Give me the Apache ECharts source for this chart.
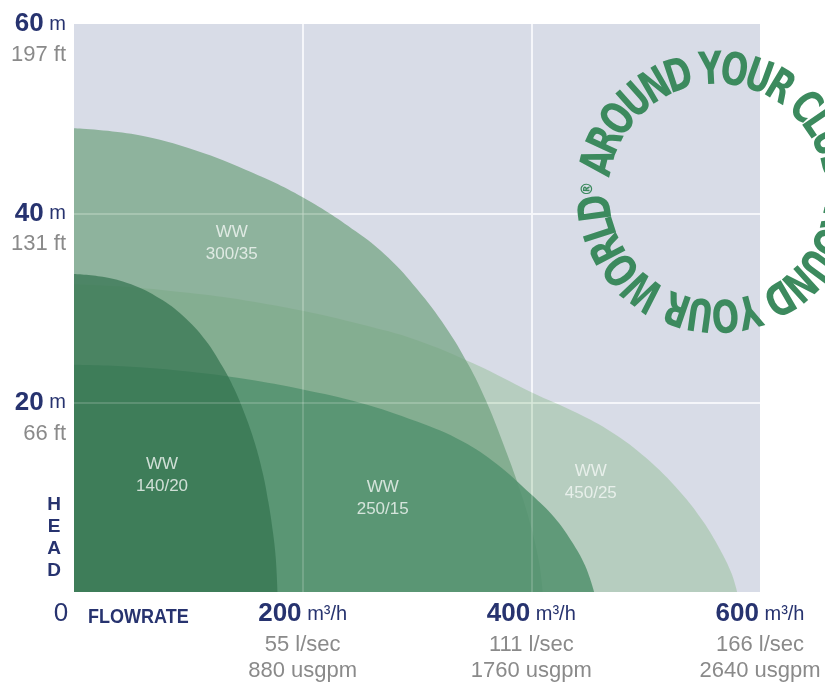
<!DOCTYPE html>
<html>
<head>
<meta charset="utf-8">
<script src="https://cdn.jsdelivr.net/npm/echarts@6/dist/echarts.min.js"></script>
<style>
html,body{margin:0;padding:0;background:#ffffff;}
#chart{width:825px;height:688px;}
</style>
</head>
<body>
<div id="chart"></div>
<script>
// ---- Data ----
const flowTicks = [0, 200, 400, 600];
const flowLps = ['', '55 l/sec', '111 l/sec', '166 l/sec'];
const flowGpm = ['', '880 usgpm', '1760 usgpm', '2640 usgpm'];
const headTicks = [0, 20, 40, 60];
const headFt = ['', '66 ft', '131 ft', '197 ft'];

const ww450Flow = [0, 50, 100, 150, 200, 250, 300, 350, 400, 440, 470, 500, 530, 550, 565, 575, 580];
const ww450Head = [32.5, 32.2, 31.6, 30.8, 29.7, 28.3, 26.6, 24.1, 21.1, 18.9, 16.9, 14.2, 10.6, 7.5, 4.5, 2.0, 0];

const ww300Flow = [0, 50, 100, 150, 200, 250, 275, 300, 325, 345, 360, 375, 390, 400, 407, 410];
const ww300Head = [49.0, 48.4, 46.9, 44.6, 41.7, 37.8, 35.3, 32.0, 28.0, 24.0, 20.3, 15.8, 10.8, 6.8, 3.0, 0];

const ww250Flow = [0, 50, 100, 150, 200, 250, 300, 340, 370, 400, 420, 435, 447, 455];
const ww250Head = [24.0, 23.8, 23.3, 22.5, 21.4, 20.0, 18.0, 15.9, 13.5, 10.3, 7.9, 5.4, 2.8, 0];

const ww140Flow = [0, 25, 50, 75, 95, 115, 130, 140, 150, 158, 165, 170, 174, 176.5, 178];
const ww140Head = [33.6, 33.3, 32.5, 31.0, 29.2, 26.6, 23.8, 21.5, 18.6, 15.8, 12.6, 9.5, 6.3, 3.5, 0];

const labelModels = ['140/20', '250/15', '300/35', '450/25'];
const labelFlow = [77, 270, 138, 452];
const labelHead = [12.3, 9.9, 36.8, 11.6];

const ringText = 'AROUND YOUR CLUB AROUND YOUR WORLD® ';

// ---- Helpers ----
function pairs(xs, ys) { return xs.map((x, i) => [x, ys[i]]); }
const navy = '#27336f';
const grey = '#8a8a8a';

function areaSeries(name, xs, ys, color, opacity) {
  return {
    name: name, type: 'line', data: pairs(xs, ys), smooth: 0.4,
    symbol: 'none', lineStyle: { width: 0 },
    areaStyle: { color: color, opacity: opacity }, silent: true
  };
}

// ---- Ring text graphic ----
const ringCx = 717, ringCy = 192, ringR = 120;
const ringFont = 'bold 36px "Liberation Sans Narrow", "DejaVu Sans Condensed", sans-serif';
const smallFont = 'bold 16px "Liberation Sans Narrow", "DejaVu Sans Condensed", sans-serif';
const cv = document.createElement('canvas').getContext('2d');
const chars = Array.from(ringText);
const widths = chars.map(ch => { cv.font = (ch === '®') ? smallFont : ringFont; return cv.measureText(ch).width; });
const circ = 2 * Math.PI * ringR;
const sumW = widths.reduce((a, b) => a + b, 0);
const extra = (circ - sumW) / chars.length;
let cum = 0;
const centers = widths.map(w => { const c = cum + (w + extra) / 2; cum += w + extra; return c; });
const startDeg = 194 - centers[0] / circ * 360;
const ringGraphics = chars.map((ch, i) => {
  if (ch === ' ') return null;
  const deg = startDeg + centers[i] / circ * 360;
  const th = deg * Math.PI / 180;
  const isR = ch === '®';
  const r = isR ? ringR + 9 : ringR;
  return {
    type: 'text', x: ringCx + r * Math.cos(th), y: ringCy + r * Math.sin(th),
    rotation: -(th + Math.PI / 2), scaleY: isR ? 1 : 1.25, z: 100,
    style: { text: ch, font: isR ? smallFont : ringFont, fill: '#3c8a5e', align: 'center', verticalAlign: 'middle' }
  };
}).filter(Boolean);

// ---- Chart ----
const chart = echarts.init(document.getElementById('chart'), null, { renderer: 'canvas' });
const gridSplit = { show: true, showMinLine: false, showMaxLine: false, lineStyle: { color: '#f3f5f9', width: 2 } };
const overSplit = { show: true, showMinLine: false, showMaxLine: false, lineStyle: { color: 'rgba(255,255,255,0.16)', width: 2 } };
const option = {
  animation: false,
  backgroundColor: '#ffffff',
  grid: { left: 74, right: 65, top: 24, bottom: 96, show: true, backgroundColor: '#d8dce7', borderWidth: 0,
          containLabel: false, outerBoundsMode: 'none' },
  xAxis: [{
    type: 'value', min: 0, max: 600, interval: 200,
    axisLine: { show: false }, axisTick: { show: false },
    splitLine: gridSplit,
    axisLabel: {
      margin: 8, verticalAlign: 'top', showMinLabel: true, showMaxLabel: true, hideOverlap: false,
      formatter: function (v) {
        const i = flowTicks.indexOf(v);
        if (i === 0) return '{z|0}';
        return '{n|' + v + '}{u| m³/h}\n{g|' + flowLps[i] + '}\n{h|' + flowGpm[i] + '}';
      },
      rich: {
        z: { fontSize: 26, color: navy, fontFamily: 'Liberation Sans', lineHeight: 28, padding: [0, 26, 0, 0] },
        n: { fontSize: 26, color: navy, fontFamily: 'Liberation Sans', fontWeight: 'bold', lineHeight: 28 },
        u: { fontSize: 20, color: navy, fontFamily: 'Liberation Sans', lineHeight: 28 },
        g: { fontSize: 22, color: grey, fontFamily: 'Liberation Sans', lineHeight: 34 },
        h: { fontSize: 22, color: grey, fontFamily: 'Liberation Sans', lineHeight: 18 }
      }
    }
  }, {
    type: 'value', min: 0, max: 600, interval: 200, position: 'bottom', z: 4,
    axisLine: { show: false }, axisTick: { show: false }, axisLabel: { show: false },
    splitLine: overSplit
  }],
  yAxis: [{
    type: 'value', min: 0, max: 60, interval: 20,
    axisLine: { show: false }, axisTick: { show: false },
    splitLine: gridSplit,
    axisLabel: {
      margin: 8, showMinLabel: true, showMaxLabel: true,
      formatter: function (v) {
        const i = headTicks.indexOf(v);
        if (i <= 0) return '';
        return '{e| }\n{n|' + v + '}{u| m}\n{g|' + headFt[i] + '}';
      },
      rich: {
        e: { fontSize: 10, lineHeight: 32 },
        n: { fontSize: 26, color: navy, fontFamily: 'Liberation Sans', fontWeight: 'bold', lineHeight: 30 },
        u: { fontSize: 20, color: navy, fontFamily: 'Liberation Sans', lineHeight: 30 },
        g: { fontSize: 22, color: grey, fontFamily: 'Liberation Sans', lineHeight: 32 }
      }
    }
  }, {
    type: 'value', min: 0, max: 60, interval: 20, position: 'left', z: 4,
    axisLine: { show: false }, axisTick: { show: false }, axisLabel: { show: false },
    splitLine: overSplit
  }],
  series: [
    areaSeries('WW 450/25', ww450Flow, ww450Head, 'rgb(120,178,118)', 0.35),
    areaSeries('WW 300/35', ww300Flow, ww300Head, 'rgb(111,161,125)', 0.7),
    areaSeries('WW 250/15', ww250Flow, ww250Head, 'rgb(84,147,112)', 0.88),
    areaSeries('WW 140/20', ww140Flow, ww140Head, 'rgb(50,114,79)', 0.7),
    {
      type: 'scatter', symbolSize: 0, z: 5, silent: true,
      data: labelModels.map((m, i) => ({ value: [labelFlow[i], labelHead[i]], model: m })),
      label: {
        show: true, position: 'inside', color: '#f4f7f5', fontSize: 17, lineHeight: 22,
        fontFamily: 'Liberation Sans', align: 'center', verticalAlign: 'middle',
        formatter: function (p) { return 'WW\n' + p.data.model; }
      }
    }
  ],
  graphic: [
    { type: 'text', x: 88, y: 617, z: 50, scaleY: 1.15,
      style: { text: 'FLOWRATE', fill: navy, font: 'bold 18px "Liberation Sans Narrow", sans-serif', align: 'left', verticalAlign: 'middle' } },
    { type: 'text', x: 54, y: 494, z: 50,
      style: { text: 'H\nE\nA\nD', fill: navy, font: 'bold 19px "Liberation Sans", sans-serif', align: 'center', verticalAlign: 'top', lineHeight: 22 } }
  ].concat(ringGraphics)
};
chart.setOption(option);
</script>
</body>
</html>
